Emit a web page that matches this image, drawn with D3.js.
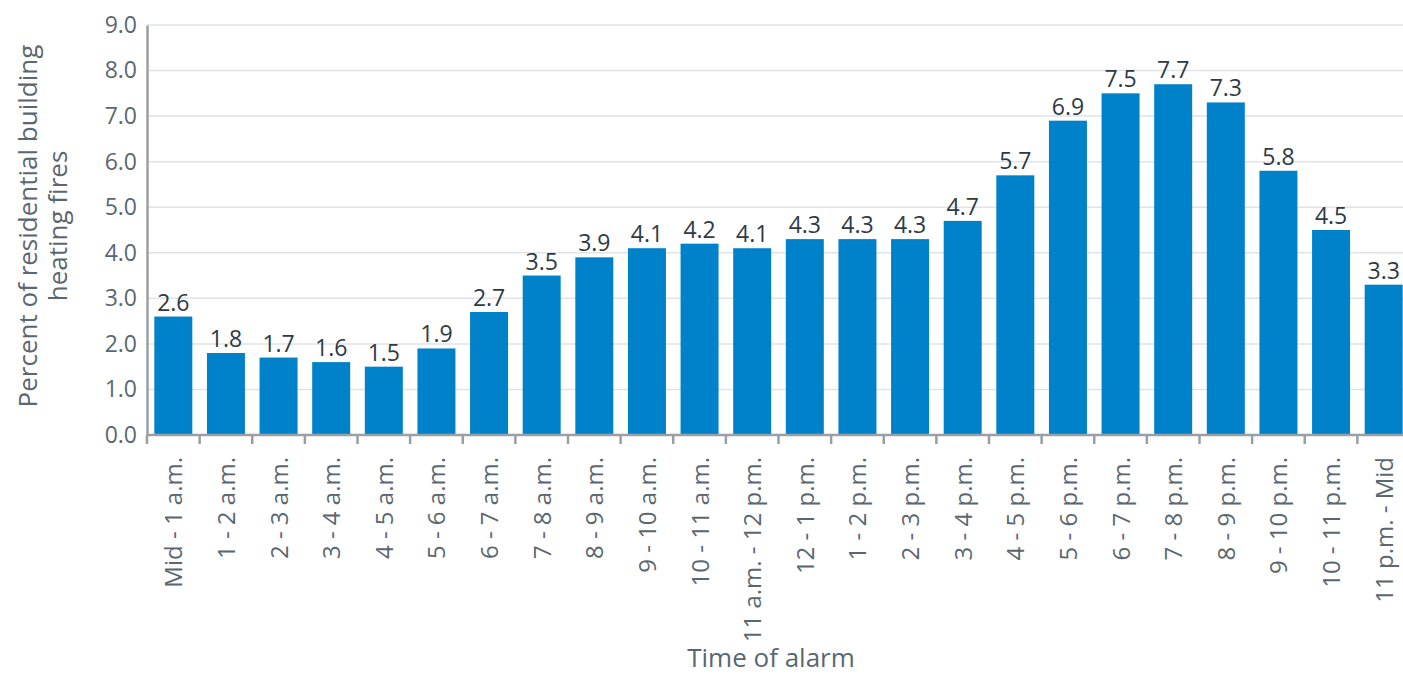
<!DOCTYPE html>
<html>
<head>
<meta charset="utf-8">
<script src="https://cdn.jsdelivr.net/npm/d3@7"></script>
<style>
  body { margin: 0; background: #fff; }
  svg { display: block; font-family: "Open Sans", sans-serif; }
</style>
</head>
<body>
<svg id="chart" width="1403" height="675"></svg>
<script>
var categories = ["Mid - 1 a.m.", "1 - 2 a.m.", "2 - 3 a.m.", "3 - 4 a.m.", "4 - 5 a.m.", "5 - 6 a.m.",
  "6 - 7 a.m.", "7 - 8 a.m.", "8 - 9 a.m.", "9 - 10 a.m.", "10 - 11 a.m.", "11 a.m. - 12 p.m.",
  "12 - 1 p.m.", "1 - 2 p.m.", "2 - 3 p.m.", "3 - 4 p.m.", "4 - 5 p.m.", "5 - 6 p.m.",
  "6 - 7 p.m.", "7 - 8 p.m.", "8 - 9 p.m.", "9 - 10 p.m.", "10 - 11 p.m.", "11 p.m. - Mid"];
var values = [2.6, 1.8, 1.7, 1.6, 1.5, 1.9, 2.7, 3.5, 3.9, 4.1, 4.2, 4.1,
  4.3, 4.3, 4.3, 4.7, 5.7, 6.9, 7.5, 7.7, 7.3, 5.8, 4.5, 3.3];
var yTicks = [0, 1, 2, 3, 4, 5, 6, 7, 8, 9];

// plot runs slightly past the right edge of the window, as in the original
var margin = { top: 25, right: 0, bottom: 240, left: 147 },
  width = 1263,
  height = 675 - margin.top - margin.bottom;

var svg = d3.select("#chart");
var g = svg.append("g").attr("transform", "translate(" + margin.left + "," + margin.top + ")");

var x = d3.scaleBand().domain(categories).range([0, width]).paddingInner(0.278).paddingOuter(0.139);
var y = d3.scaleLinear().domain([0, 9]).range([height, 0]);

// gridlines
g.selectAll(".grid").data(yTicks).enter().append("line")
  .attr("x1", 0).attr("x2", width)
  .attr("y1", function (d) { return y(d); })
  .attr("y2", function (d) { return y(d); })
  .attr("stroke", "#dfe3e6").attr("stroke-width", 1.5);

// bars
g.selectAll(".bar").data(values).enter().append("rect")
  .attr("x", function (d, i) { return x(categories[i]); })
  .attr("y", function (d) { return y(d); })
  .attr("width", x.bandwidth())
  .attr("height", function (d) { return height - y(d); })
  .attr("fill", "#0082ca");

// value labels
g.selectAll(".val").data(values).enter().append("text")
  .attr("x", function (d, i) { return x(categories[i]) + x.bandwidth() / 2; })
  .attr("y", function (d) { return y(d) - 6; })
  .attr("text-anchor", "middle")
  .attr("font-size", 23)
  .attr("fill", "#2e3a44")
  .text(function (d) { return d.toFixed(1); });

// y axis
var yAxis = g.append("g")
  .call(d3.axisLeft(y).tickValues(yTicks).tickFormat(d3.format(".1f")).tickSize(0).tickPadding(10));
yAxis.select(".domain").attr("stroke", "#9a9fa3").attr("stroke-width", 2.5);
yAxis.selectAll("text").attr("font-size", 23).attr("fill", "#5b6770").attr("font-family", "Open Sans");

// x axis: ticks at band boundaries
var xAxis = g.append("g").attr("transform", "translate(0," + height + ")");
xAxis.append("line").attr("x1", 0).attr("x2", width).attr("stroke", "#9a9fa3").attr("stroke-width", 2.5);
var bounds = d3.range(categories.length).map(function (i) { return x.step() * i; });
xAxis.selectAll(".tk").data(bounds).enter().append("line")
  .attr("x1", function (d) { return d; }).attr("x2", function (d) { return d; })
  .attr("y1", 0).attr("y2", 9)
  .attr("stroke", "#9a9fa3").attr("stroke-width", 2.5);
xAxis.selectAll(".lbl").data(categories).enter().append("text")
  .attr("transform", function (d) {
    return "translate(" + (x(d) + x.bandwidth() / 2 + 9) + ",22) rotate(-90)";
  })
  .attr("text-anchor", "end")
  .attr("font-size", 24)
  .attr("fill", "#5b6770")
  .text(function (d) { return d; });

// axis titles
svg.append("text")
  .attr("x", 771).attr("y", 667)
  .attr("text-anchor", "middle").attr("font-size", 26).attr("fill", "#5b6770")
  .text("Time of alarm");

var yt = svg.append("text")
  .attr("transform", "translate(37," + 226 + ") rotate(-90)")
  .attr("text-anchor", "middle").attr("font-size", 26).attr("fill", "#5b6770");
yt.append("tspan").attr("x", 0).attr("dy", 0).text("Percent of residential building");
yt.append("tspan").attr("x", 0).attr("dy", 30).text("heating fires");
</script>
</body>
</html>
